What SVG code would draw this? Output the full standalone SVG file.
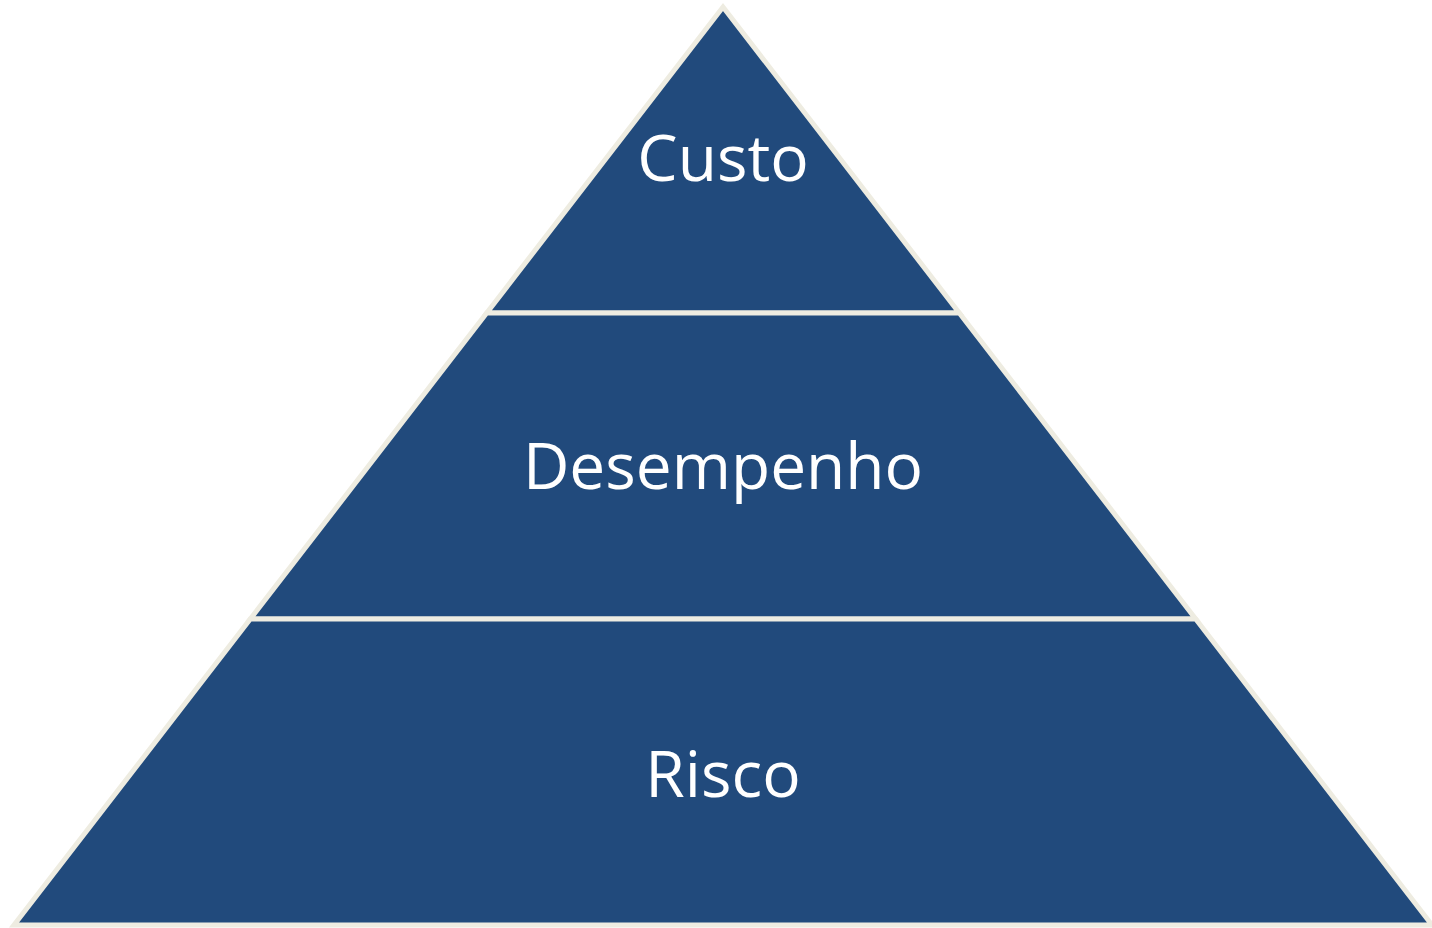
<svg xmlns="http://www.w3.org/2000/svg" width="1432" height="928" viewBox="0 0 1432 928">
<style>
.band{fill:#214A7C;stroke:#EEECE1;stroke-width:5;stroke-linejoin:miter}
.lbl{font-family:"Open Sans","Noto Sans",sans-serif;font-size:64px;fill:#FFFFFF;text-anchor:middle}
</style>
<rect width="1432" height="928" fill="#FFFFFF"/>
<g id="band-custo">
<polygon class="band" points="723,7 959.3,313 486.7,313"/>
<text class="lbl" x="723" y="181">Custo</text>
</g>
<g id="band-desempenho">
<polygon class="band" points="486.7,313 959.3,313 1195.7,619 250.3,619"/>
<text class="lbl" x="723" y="489">Desempenho</text>
</g>
<g id="band-risco">
<polygon class="band" points="250.3,619 1195.7,619 1432,925 14,925"/>
<text class="lbl" x="723" y="797">Risco</text>
</g>
<g id="connectors"></g>
</svg>
